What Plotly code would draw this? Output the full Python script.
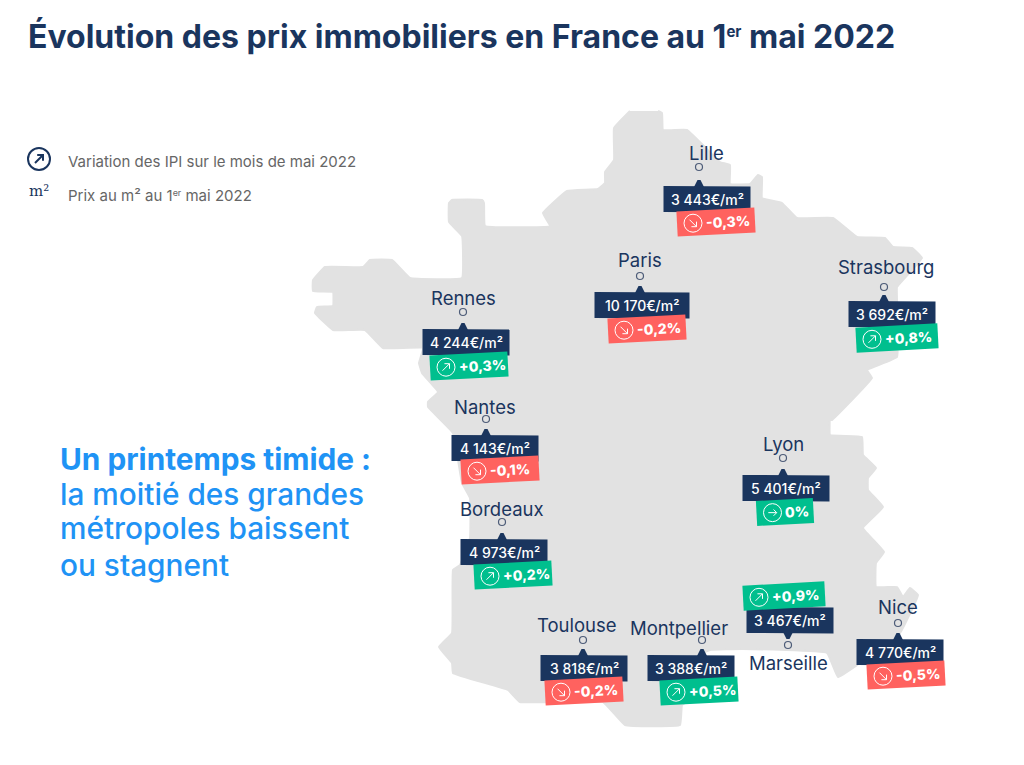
import math
import plotly.graph_objects as go

# ---------- data ----------
cities = ["Lille", "Paris", "Strasbourg", "Rennes", "Nantes", "Bordeaux",
          "Toulouse", "Montpellier", "Lyon", "Marseille", "Nice"]
prices = [3443, 10170, 3692, 4244, 4143, 4973, 3818, 3388, 5401, 3467, 4770]
variations = [-0.3, -0.2, 0.8, 0.3, -0.1, 0.2, -0.2, 0.5, 0.0, 0.9, -0.5]

# ---------- layout positions (page pixels) ----------
marker_x = [699, 640, 884, 463, 486, 502, 583, 702, 783, 788, 898]
marker_y = [167, 276, 287, 312, 419, 522, 640, 640, 458, 645, 623]
label_x = [706, 640, 886, 463, 485, 502, 577, 679, 783, 788, 898]
label_y = [153, 260, 267, 298, 407, 509, 625, 628, 444, 663, 607]
price_cx = [707, 642, 892, 466, 495, 504, 584, 691, 786, 790, 900]
price_cy = [199, 305, 314, 342, 448, 552, 668, 668, 488, 620, 652]
price_w = [87, 95, 87, 87, 87, 87, 87, 87, 87, 87, 87]
badge_cx = [716, 647, 897, 469, 500, 513, 584, 699, 785, 784, 906]
badge_cy = [222, 329, 338, 366, 470, 575, 691, 691, 512, 596, 675]
badge_w = [78, 78, 82, 78, 78, 78, 78, 78, 57, 82, 78]

outline_x = [630, 614, 614, 605, 605, 598, 567, 543, 550, 485, 484, 482, 452, 449, 449, 462, 462,
             410, 392, 370, 363, 325, 313, 313, 333, 333, 317, 315, 333, 365, 383, 423, 419, 422,
             438, 428, 428, 453, 462, 470, 470, 460, 453, 452, 439, 452, 453, 508, 520, 603, 625,
             680, 682, 690, 690, 710, 743, 827, 838, 857, 900, 918, 910, 903, 897, 876, 876, 884,
             863, 883, 868, 868, 876, 863, 862, 830, 830, 832, 872, 867, 897, 897, 897, 922, 912,
             893, 885, 857, 833, 797, 782, 762, 762, 758, 750, 730, 730, 720, 687, 663, 662, 658]
outline_y = [111, 128, 160, 172, 183, 189, 191, 213, 226, 226, 203, 200, 200, 203, 222, 236, 278,
             278, 260, 260, 267, 267, 280, 291, 292, 306, 307, 313, 330, 330, 348, 348, 363, 373,
             392, 402, 407, 433, 483, 498, 538, 565, 570, 633, 647, 663, 673, 690, 702, 702, 725,
             725, 705, 700, 660, 650, 649, 653, 677, 665, 633, 595, 588, 597, 587, 587, 563, 552,
             528, 507, 490, 478, 468, 455, 437, 435, 420, 420, 378, 370, 357, 300, 287, 258, 248,
             247, 238, 237, 218, 218, 203, 198, 177, 175, 184, 184, 165, 162, 130, 130, 113, 111]

# ---------- styles ----------
NAVY = "#1a355e"
GREEN = "#00bf8e"
RED = "#ff625f"
GREY = "#e2e2e2"
BLUE = "#1f93f5"
TEXT_GREY = "#666666"
FONT = "Inter"
TILT = -3.0

shapes, annots = [], []


def sup(s, px, shift):
    return f'<span style="font-size:{px}px;baseline-shift:{shift}px">{s}</span>'


def rot_path(cx, cy, w, h, deg):
    a = math.radians(deg)
    c, s = math.cos(a), math.sin(a)
    pts = [(-w / 2, -h / 2), (w / 2, -h / 2), (w / 2, h / 2), (-w / 2, h / 2)]
    pts = [(cx + x * c - y * s, cy + x * s + y * c) for x, y in pts]
    return "M" + " L".join(f"{x:.2f},{y:.2f}" for x, y in pts) + " Z"


def path_shape(d, fill=None, line=None, width=0):
    shapes.append(dict(type="path", path=d, xref="x", yref="y", layer="above",
                       fillcolor=fill or "rgba(0,0,0,0)",
                       line=dict(color=line or "rgba(0,0,0,0)", width=width)))


def circle_shape(cx, cy, r, color, width):
    shapes.append(dict(type="circle", xref="x", yref="y", layer="above",
                       x0=cx - r, x1=cx + r, y0=cy - r, y1=cy + r,
                       fillcolor="rgba(0,0,0,0)", line=dict(color=color, width=width)))


def arrow(cx, cy, size, direction, color, width):
    s = size
    if direction > 0:
        d = (f"M{cx-s},{cy+s} L{cx+s},{cy-s} M{cx-s*0.45},{cy-s} L{cx+s},{cy-s} L{cx+s},{cy+s*0.45}")
    elif direction < 0:
        d = (f"M{cx-s},{cy-s} L{cx+s},{cy+s} M{cx-s*0.45},{cy+s} L{cx+s},{cy+s} L{cx+s},{cy-s*0.45}")
    else:
        d = (f"M{cx-s*1.2},{cy} L{cx+s*1.2},{cy} M{cx+s*0.3},{cy-s*0.9} L{cx+s*1.2},{cy} L{cx+s*0.3},{cy+s*0.9}")
    path_shape(d, line=color, width=width)


def text(x, y, s, size, color, weight=400, anchor="center", angle=0, family=FONT):
    annots.append(dict(x=x, y=y, xref="x", yref="y", text=s, showarrow=False,
                       xanchor=anchor, yanchor="middle", textangle=angle,
                       font=dict(family=family, size=size, color=color, weight=weight)))


def fmt_price(p):
    return f"{p:,}".replace(",", "\u00a0") + "€/m²"


def fmt_var(v):
    if v == 0:
        return "0%"
    return f"{v:+.1f}%".replace(".", ",")


fig = go.Figure()
fig.add_trace(go.Scatter(x=outline_x, y=outline_y, mode="lines", fill="toself", fillcolor=GREY,
                         line=dict(color=GREY, width=2, shape="spline", smoothing=0.25),
                         hoverinfo="skip", showlegend=False))
fig.add_trace(go.Scatter(x=marker_x, y=marker_y, mode="markers", hoverinfo="skip", showlegend=False,
                         marker=dict(size=7, color=GREY, line=dict(color="#4d5c78", width=1.2))))

for i, name in enumerate(cities):
    text(label_x[i], label_y[i], name, 18.5, NAVY)
    cx, cy, w = price_cx[i], price_cy[i], price_w[i]
    top, bottom = cy - 13, cy + 13
    path_shape(f"M{cx-w/2},{top} L{cx+w/2},{top+0.5} L{cx+w/2},{bottom+0.5} L{cx-w/2},{bottom} Z", fill=NAVY)
    mx = marker_x[i]
    if marker_y[i] < cy:
        path_shape(f"M{mx-5},{top+1} L{mx-1.5},{top-6} L{mx+1.5},{top-6} L{mx+5},{top+1} Z", fill=NAVY)
    else:
        path_shape(f"M{mx-5},{bottom-1} L{mx-1.5},{bottom+6} L{mx+1.5},{bottom+6} L{mx+5},{bottom-1} Z", fill=NAVY)
    text(cx, cy, fmt_price(prices[i]), 14, "#ffffff", 500)

for i, v in enumerate(variations):
    cx, cy, w = badge_cx[i], badge_cy[i], badge_w[i]
    path_shape(rot_path(cx, cy, w, 25, TILT), fill=RED if v < 0 else GREEN)
    left = cx - w / 2
    icon_y = cy + (w / 2 - 16) * math.sin(math.radians(-TILT))
    circle_shape(left + 16, icon_y, 9, "#ffffff", 1)
    arrow(left + 16, icon_y, 3.5, v, "#ffffff", 1)
    text(left + 26, cy - 1, fmt_var(v), 14, "#ffffff", 800, anchor="left", angle=TILT)

# Title
text(26, 36, "Évolution des prix immobiliers en France au 1" + sup("er", 15, 11) + " mai 2022", 32, NAVY, 700, anchor="left")

# Legend
circle_shape(39, 159, 11, NAVY, 2)
arrow(39, 159, 4, 1, NAVY, 2)
text(39, 191, "m²", 15, NAVY, family="DejaVu Serif")
text(66, 161, "Variation des IPI sur le mois de mai 2022", 15, TEXT_GREY, anchor="left")
text(66, 195, "Prix au m² au 1" + sup("er", 9, 5) + " mai 2022", 15, TEXT_GREY, anchor="left")

# Headline
text(58, 459, "Un printemps timide :", 29.8, BLUE, 700, anchor="left")
text(58, 494, "la moitié des grandes", 29.8, BLUE, 500, anchor="left")
text(58, 528, "métropoles baissent", 29.8, BLUE, 500, anchor="left")
text(58, 565, "ou stagnent", 29.8, BLUE, 500, anchor="left")

fig.update_layout(
    width=1024, height=765, margin=dict(l=0, r=0, t=0, b=0),
    paper_bgcolor="#ffffff", plot_bgcolor="#ffffff", showlegend=False,
    xaxis=dict(range=[0, 1024], visible=False, fixedrange=True),
    yaxis=dict(range=[765, 0], visible=False, fixedrange=True),
    shapes=shapes, annotations=annots,
)
fig.write_html("out.html", config=dict(displayModeBar=False),
               post_script="document.body.style.margin='0';document.body.style.overflow='hidden';")
